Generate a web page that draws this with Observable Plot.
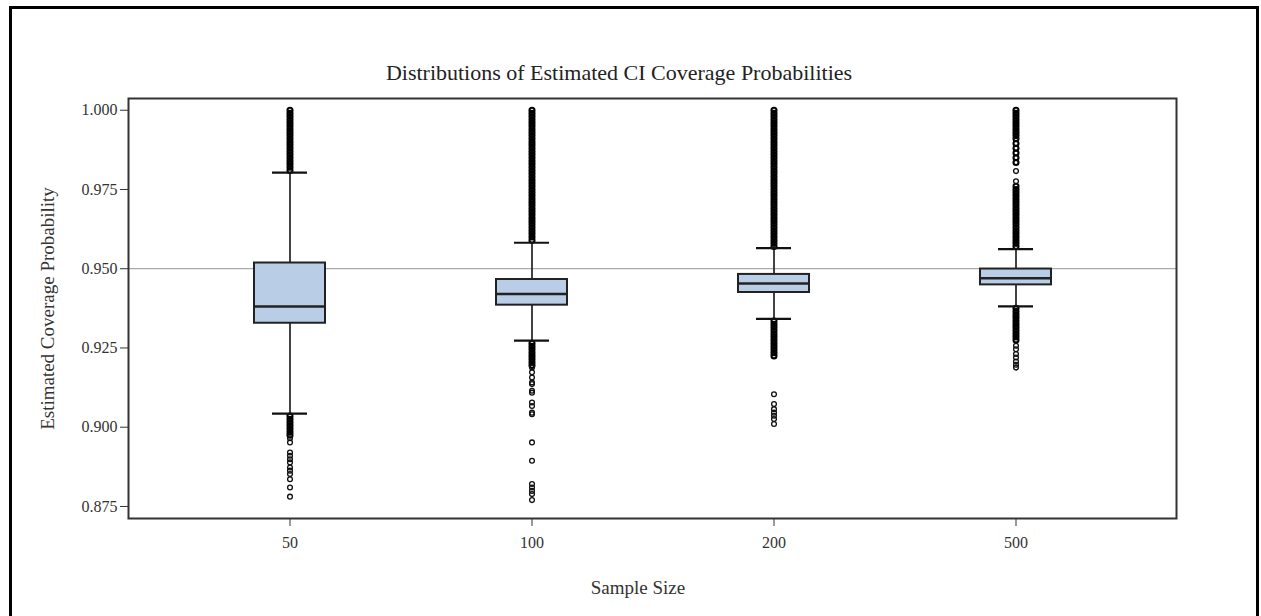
<!DOCTYPE html>
<html>
<head>
<meta charset="utf-8">
<script src="https://cdn.jsdelivr.net/npm/d3@7"></script>
<script src="https://cdn.jsdelivr.net/npm/@observablehq/plot@0.6"></script>
<style>
  html, body { margin: 0; padding: 0; background: #fff; overflow: hidden; }
  #wrap { position: relative; width: 1261px; height: 616px; }
  #border { position: absolute; left: 9px; top: 6px; width: 1250px; height: 700px; border: 3px solid #000; box-sizing: border-box; pointer-events: none; }
  #title { position: absolute; left: 0; width: 1238px; top: 60px; text-align: center; font-family: 'Liberation Serif', serif; font-size: 22px; color: #222; }
  #xlabel { position: absolute; left: 0; width: 1276px; top: 577px; text-align: center; font-family: 'Liberation Serif', serif; font-size: 19px; color: #333; }
  #chart { position: absolute; left: 0; top: 0; }
</style>
</head>
<body>
<div id="wrap">
  <div id="chart"></div>
  <div id="title">Distributions of Estimated CI Coverage Probabilities</div>
  <div id="xlabel">Sample Size</div>
  <div id="border"></div>
</div>
<script>
const sampleSizes = ["50", "100", "200", "500"];
const q1 = [0.9328, 0.9385, 0.9425, 0.9449];
const median = [0.9381, 0.9420, 0.9453, 0.9470];
const q3 = [0.9518, 0.9466, 0.9482, 0.9499];
const mean = [0.9451, 0.9456, 0.9474, 0.9483];
const whiskerLow = [0.9043, 0.9273, 0.9342, 0.9381];
const whiskerHigh = [0.9803, 0.9582, 0.9565, 0.9562];
const yTicks = [0.875, 0.900, 0.925, 0.950, 0.975, 1.000];
const referenceLine = [0.95];
const yLabel = ["Estimated Coverage Probability"];

// densely packed outliers (draw as a solid column)
const dense50 = [0.981,0.982,0.983,0.984,0.985,0.986,0.987,0.988,0.989,0.990,0.991,0.992,0.993,0.994,0.995,0.996,0.997,0.998,0.999,1.000,
  0.9035,0.9025,0.9015,0.9005,0.8995,0.8985,0.8975];
const dense100 = [0.959,0.960,0.961,0.962,0.963,0.964,0.965,0.966,0.967,0.968,0.969,0.970,0.971,0.972,0.973,0.974,0.975,0.976,0.977,0.978,0.979,
  0.980,0.981,0.982,0.983,0.984,0.985,0.986,0.987,0.988,0.989,0.990,0.991,0.992,0.993,0.994,0.995,0.996,0.997,0.998,0.999,1.000,
  0.9265,0.9255,0.9245,0.9235,0.9225,0.9215,0.9205,0.9195];
const dense200 = [0.957,0.958,0.959,0.960,0.961,0.962,0.963,0.964,0.965,0.966,0.967,0.968,0.969,0.970,0.971,0.972,0.973,0.974,0.975,0.976,0.977,0.978,0.979,
  0.980,0.981,0.982,0.983,0.984,0.985,0.986,0.987,0.988,0.989,0.990,0.991,0.992,0.993,0.994,0.995,0.996,0.997,0.998,0.999,1.000,
  0.9335,0.9325,0.9315,0.9305,0.9295,0.9285,0.9275,0.9265,0.9255,0.9245,0.9235,0.9225];
const dense500 = [0.957,0.958,0.959,0.960,0.961,0.962,0.963,0.964,0.965,0.966,0.967,0.968,0.969,0.970,0.971,0.972,0.973,0.974,0.975,0.976,
  0.9835,0.985,0.9865,0.988,0.9895,0.991,0.992,0.993,0.994,0.995,0.996,0.997,0.998,0.999,1.000,
  0.9375,0.9365,0.9355,0.9345,0.9335,0.9325,0.9315,0.9305,0.9295,0.9285,0.9275];
// isolated outliers (draw as open circles)
const sparse50 = [0.8965,0.8952,0.8920,0.8910,0.8899,0.8889,0.8873,0.8863,0.8852,0.8836,0.8810,0.8781];
const sparse100 = [0.9188,0.9173,0.9157,0.9141,0.9136,0.9115,0.9109,0.9078,0.9067,0.9046,0.9041,0.8952,0.8894,0.8821,0.8810,0.8799,0.8789,0.8770];
const sparse200 = [0.9104,0.9073,0.9057,0.9046,0.9036,0.9026,0.9010];
const sparse500 = [0.9776,0.9808,0.9257,0.9246,0.9231,0.9220,0.9207,0.9197,0.9188];

const stats = sampleSizes.map((s, i) => ({
  size: s, q1: q1[i], median: median[i], q3: q3[i], mean: mean[i],
  lo: whiskerLow[i], hi: whiskerHigh[i]
}));
const denseLists = [dense50, dense100, dense200, dense500];
const sparseLists = [sparse50, sparse100, sparse200, sparse500];
const denseRows = sampleSizes.flatMap((s, i) => denseLists[i].map(v => ({size: s, value: v})));
const sparseRows = sampleSizes.flatMap((s, i) => sparseLists[i].map(v => ({size: s, value: v})));

const fmt = d3.format(".3f");

const chart = Plot.plot({
  width: 1261,
  height: 616,
  marginLeft: 128,
  marginRight: 85,
  marginTop: 98,
  marginBottom: 98,
  style: {fontFamily: "'Liberation Serif', serif", fontSize: "16px", color: "#333", background: "transparent"},
  x: {type: "band", domain: sampleSizes, paddingInner: 0.707, paddingOuter: 0.515, label: null},
  y: {domain: [0.8712, 1.0037], label: null},
  marks: [
    Plot.ruleY(referenceLine, {stroke: "#aaa", strokeWidth: 1.3}),
    Plot.ruleX(stats, {x: "size", y1: "lo", y2: "hi", stroke: "#222", strokeWidth: 1.7}),
    Plot.dot(denseRows, {x: "size", y: "value", r: 2.5, stroke: "#000", strokeWidth: 2.1, fill: "none"}),
    Plot.dot(sparseRows, {x: "size", y: "value", r: 2.4, stroke: "#111", strokeWidth: 1.3, fill: "none"}),
    Plot.barY(stats, {x: "size", y1: "q1", y2: "q3", fill: "#b9cde6", stroke: "#222", strokeWidth: 2}),
    Plot.tickY(stats, {x: "size", y: "median", stroke: "#222", strokeWidth: 2.5}),
    Plot.tickY(stats, {x: "size", y: "hi", stroke: "#111", strokeWidth: 2.2, insetLeft: 18, insetRight: 18}),
    Plot.tickY(stats, {x: "size", y: "lo", stroke: "#111", strokeWidth: 2.2, insetLeft: 18, insetRight: 18}),
    Plot.dot(stats, {x: "size", y: "mean", symbol: "plus", r: 2.6, fill: "#4a6cd4"}),
    Plot.frame({stroke: "#333", strokeWidth: 2}),
    Plot.axisY({ticks: yTicks, tickFormat: fmt, tickSize: 8, tickPadding: 3, label: null}),
    Plot.text(yLabel, {frameAnchor: "left", textAnchor: "middle", lineAnchor: "middle", rotate: -90, dx: -81, fontSize: 19, fill: "#333", text: d => d}),
    Plot.axisX({tickSize: 8, tickPadding: 10, label: null})
  ]
});
document.getElementById("chart").appendChild(chart);
</script>
</body>
</html>
